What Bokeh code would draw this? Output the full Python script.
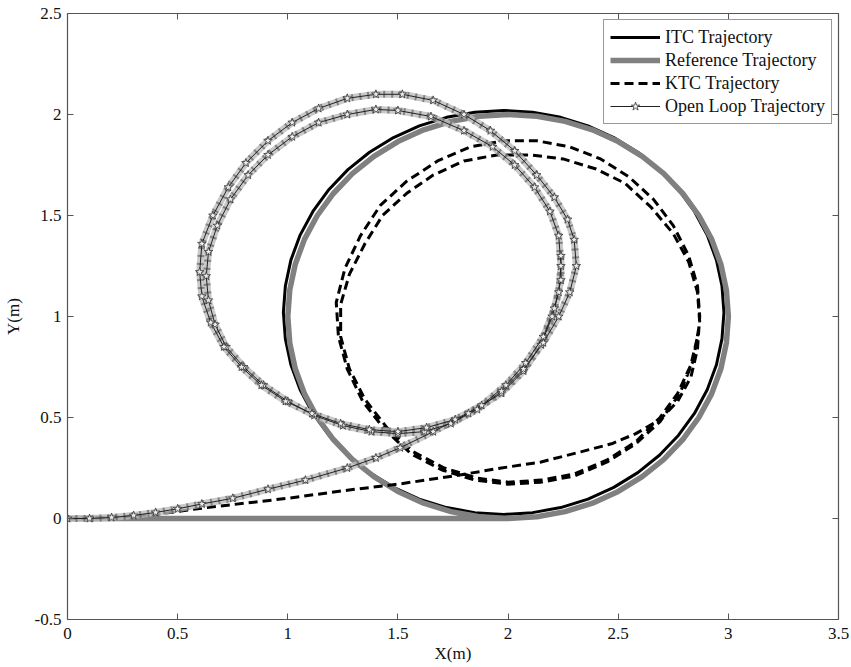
from bokeh.plotting import figure
from bokeh.models import Range1d, LinearAxis, FixedTicker, Legend, LegendItem
from bokeh.embed import file_html
from bokeh.resources import INLINE

# ---------------- data ----------------
x_ticks = [0, 0.5, 1, 1.5, 2, 2.5, 3, 3.5]
x_tick_labels = ["0", "0.5", "1", "1.5", "2", "2.5", "3", "3.5"]
y_ticks = [-0.5, 0, 0.5, 1, 1.5, 2, 2.5]
y_tick_labels = ["-0.5", "0", "0.5", "1", "1.5", "2", "2.5"]

series_names = ["ITC Trajectory", "Reference Trajectory", "KTC Trajectory", "Open Loop Trajectory"]

ref_x = [0.0, 1.0, 2.0, 2.131, 2.259, 2.383, 2.5, 2.609, 2.707, 2.793, 2.866, 2.924, 2.966, 2.991,
         3.0, 2.991, 2.966, 2.924, 2.866, 2.793, 2.707, 2.609, 2.5, 2.383, 2.259, 2.131,
         2.0, 1.869, 1.741, 1.617, 1.5, 1.391, 1.293, 1.207, 1.134, 1.076, 1.034, 1.009,
         1.0, 1.009, 1.034, 1.076, 1.134, 1.207, 1.293, 1.391, 1.5, 1.617, 1.741, 1.869, 2.0]
ref_y = [0.0, 0.0, 0.0, 0.009, 0.034, 0.076, 0.134, 0.207, 0.293, 0.391, 0.5, 0.617, 0.741, 0.869,
         1.0, 1.131, 1.259, 1.383, 1.5, 1.609, 1.707, 1.793, 1.866, 1.924, 1.966, 1.991,
         2.0, 1.991, 1.966, 1.924, 1.866, 1.793, 1.707, 1.609, 1.5, 1.383, 1.259, 1.131,
         1.0, 0.869, 0.741, 0.617, 0.5, 0.391, 0.293, 0.207, 0.134, 0.076, 0.034, 0.009, 0.0]

itc_x = [0.0, 1.0, 1.9, 1.98, 2.111, 2.239, 2.363, 2.48, 2.589, 2.687, 2.773, 2.846, 2.904, 2.946, 2.971,
         2.98, 2.971, 2.946, 2.904, 2.846, 2.773, 2.687, 2.589, 2.48, 2.363, 2.239, 2.111,
         1.98, 1.849, 1.721, 1.597, 1.48, 1.371, 1.273, 1.187, 1.114, 1.056, 1.014, 0.989,
         0.98, 0.989, 1.014, 1.056, 1.114, 1.187, 1.273, 1.371, 1.48, 1.597, 1.721, 1.849, 1.98]
itc_y = [0.0, 0.0, 0.0, 0.02, 0.029, 0.054, 0.096, 0.154, 0.227, 0.313, 0.411, 0.52, 0.637, 0.761, 0.889,
         1.02, 1.151, 1.279, 1.403, 1.52, 1.629, 1.727, 1.813, 1.886, 1.944, 1.986, 2.011,
         2.02, 2.011, 1.986, 1.944, 1.886, 1.813, 1.727, 1.629, 1.52, 1.403, 1.279, 1.151,
         1.02, 0.889, 0.761, 0.637, 0.52, 0.411, 0.313, 0.227, 0.154, 0.096, 0.054, 0.029, 0.02]

ktc_x = [0.0, 0.2, 0.4, 0.6, 0.8, 1.0, 1.27, 1.5, 1.75, 1.97, 2.15, 2.33, 2.47, 2.58, 2.69, 2.77, 2.83, 2.86,
         2.87, 2.86, 2.82, 2.75, 2.66, 2.55, 2.42, 2.28, 2.13, 1.98, 1.83, 1.68, 1.54, 1.42, 1.33, 1.26,
         1.22, 1.23, 1.27, 1.34, 1.44, 1.56, 1.70, 1.85, 2.0, 2.15, 2.30, 2.45, 2.58, 2.69, 2.78, 2.84,
         2.87, 2.86, 2.82, 2.75, 2.65, 2.53, 2.40, 2.25, 2.10, 1.95, 1.80, 1.66, 1.54, 1.43, 1.35, 1.28,
         1.24, 1.24, 1.28, 1.35, 1.45, 1.57, 1.71, 1.86, 2.0, 2.15, 2.30, 2.45, 2.58, 2.69, 2.77, 2.83, 2.86]
ktc_y = [0.0, 0.005, 0.02, 0.05, 0.075, 0.10, 0.14, 0.17, 0.21, 0.25, 0.28, 0.33, 0.37, 0.42, 0.49, 0.58, 0.70, 0.84,
         1.0, 1.15, 1.30, 1.45, 1.58, 1.69, 1.78, 1.84, 1.87, 1.87, 1.84, 1.77, 1.67, 1.55, 1.40, 1.24,
         1.07, 0.90, 0.74, 0.58, 0.44, 0.32, 0.24, 0.19, 0.17, 0.18, 0.21, 0.28, 0.37, 0.48, 0.62, 0.78,
         0.97, 1.12, 1.27, 1.41, 1.54, 1.66, 1.73, 1.78, 1.80, 1.80, 1.77, 1.70, 1.61, 1.50, 1.36, 1.21,
         1.06, 0.90, 0.74, 0.59, 0.45, 0.33, 0.25, 0.20, 0.18, 0.19, 0.22, 0.29, 0.38, 0.50, 0.62, 0.76, 0.90]

ol_x = [0.0, 0.1, 0.2, 0.3, 0.4, 0.5, 0.61, 0.75, 0.91, 1.08, 1.27, 1.40, 1.51, 1.66, 1.82, 1.97, 2.07, 2.15,
        2.20, 2.23, 2.24,
        2.23, 2.19, 2.12, 2.03, 1.93, 1.80, 1.65, 1.50, 1.40, 1.27, 1.14, 1.02, 0.91, 0.82, 0.74, 0.68,
        0.64, 0.63, 0.64, 0.67, 0.72, 0.80, 0.89, 1.0, 1.12, 1.25, 1.38, 1.50, 1.62, 1.74, 1.86, 1.97,
        2.07, 2.16, 2.23, 2.28, 2.31,
        2.30, 2.27, 2.21, 2.13, 2.03, 1.92, 1.80, 1.66, 1.52, 1.40, 1.27, 1.14, 1.02, 0.91, 0.81, 0.73,
        0.66, 0.61, 0.60, 0.61, 0.65, 0.71, 0.79, 0.88, 0.99, 1.11, 1.24, 1.37, 1.50, 1.63, 1.76, 1.88,
        1.99, 2.08, 2.16, 2.21, 2.24, 2.24]
ol_y = [0.0, 0.0, 0.005, 0.015, 0.03, 0.048, 0.072, 0.10, 0.145, 0.19, 0.25, 0.30, 0.35, 0.43, 0.52, 0.62, 0.73, 0.86,
        1.0, 1.12, 1.25,
        1.40, 1.52, 1.64, 1.75, 1.84, 1.92, 1.99, 2.02, 2.025, 2.0, 1.96, 1.89, 1.80, 1.70, 1.58, 1.45,
        1.32, 1.20, 1.08, 0.96, 0.85, 0.75, 0.66, 0.58, 0.51, 0.46, 0.43, 0.42, 0.43, 0.47, 0.54, 0.63,
        0.74, 0.87, 1.0, 1.12, 1.25,
        1.38, 1.48, 1.59, 1.70, 1.82, 1.92, 2.0, 2.07, 2.10, 2.10, 2.08, 2.03, 1.96, 1.87, 1.76, 1.64,
        1.50, 1.36, 1.22, 1.10, 0.97, 0.85, 0.75, 0.66, 0.58, 0.52, 0.47, 0.44, 0.43, 0.45, 0.49, 0.56,
        0.66, 0.77, 0.90, 1.04, 1.18, 1.30]

# ---------------- figure ----------------
FONT = "serif"
p = figure(width=851, height=667, output_backend="svg", toolbar_location=None,
           x_range=Range1d(0, 3.5), y_range=Range1d(-0.5, 2.5),
           min_border_left=66, min_border_right=13, min_border_top=13, min_border_bottom=48)
p.xgrid.visible = False
p.ygrid.visible = False
p.outline_line_color = None
p.background_fill_color = "white"
p.border_fill_color = "white"


def style_axis(ax, ticks, labels, show_labels=True):
    ax.ticker = FixedTicker(ticks=ticks)
    ax.major_label_overrides = {t: l for t, l in zip(ticks, labels)}
    ax.major_tick_in = 6
    ax.major_tick_out = 0
    ax.minor_tick_line_color = None
    ax.axis_line_color = "#555555"
    ax.major_tick_line_color = "#555555"
    ax.axis_line_width = 1.2
    ax.major_label_text_font = FONT
    ax.major_label_text_font_size = "17px" if show_labels else "0px"
    ax.major_label_text_color = "#111111"
    ax.axis_label_text_font = FONT
    ax.axis_label_text_font_size = "17px"
    ax.axis_label_text_font_style = "normal"
    ax.axis_label_text_color = "#111111"


style_axis(p.xaxis[0], x_ticks, x_tick_labels)
style_axis(p.yaxis[0], y_ticks, y_tick_labels)
p.xaxis[0].axis_label = "X(m)"
p.yaxis[0].axis_label = "Y(m)"
p.xaxis[0].major_label_standoff = 8
p.xaxis[0].axis_label_standoff = 2
p.yaxis[0].major_label_standoff = 6
p.yaxis[0].axis_label_standoff = 9

top_ax = LinearAxis()
right_ax = LinearAxis()
style_axis(top_ax, x_ticks, ["" for _ in x_ticks], show_labels=False)
style_axis(right_ax, y_ticks, ["" for _ in y_ticks], show_labels=False)
top_ax.major_label_standoff = 0
right_ax.major_label_standoff = 0
p.add_layout(top_ax, "above")
p.add_layout(right_ax, "right")

r_itc = p.line(itc_x, itc_y, line_color="black", line_width=3, line_join="round")
r_ref = p.line(ref_x, ref_y, line_color="#808080", line_width=5.5, line_join="round")
r_ktc = p.line(ktc_x, ktc_y, line_color="black", line_width=3, line_dash="9 5", line_join="round")
# star chain look: beaded gray band, thin centre line, star markers
p.line(ol_x, ol_y, line_color="#bcbcbc", line_width=7, line_alpha=0.8, line_join="round")
p.line(ol_x, ol_y, line_color="#555555", line_width=7, line_alpha=0.6, line_dash="2 6")
r_ol = p.line(ol_x, ol_y, line_color="#222222", line_width=1, line_join="round")
r_ols = p.scatter(ol_x, ol_y, marker="star", size=9, fill_color="#eeeeee",
                  line_color="#333333", line_width=0.8)

legend = Legend(items=[
    LegendItem(label=series_names[0], renderers=[r_itc]),
    LegendItem(label=series_names[1], renderers=[r_ref]),
    LegendItem(label=series_names[2], renderers=[r_ktc]),
    LegendItem(label=series_names[3], renderers=[r_ol, r_ols]),
], location="top_right", margin=6)
legend.label_text_font = FONT
legend.label_text_font_size = "18px"
legend.label_text_color = "#111111"
legend.glyph_width = 50
legend.glyph_height = 22
legend.label_height = 22
legend.label_standoff = 5
legend.padding = 6
legend.spacing = 1
legend.border_line_color = "#333333"
legend.border_line_width = 1
legend.background_fill_alpha = 1.0
p.add_layout(legend)

open("out.html", "w").write(file_html(p, INLINE))
